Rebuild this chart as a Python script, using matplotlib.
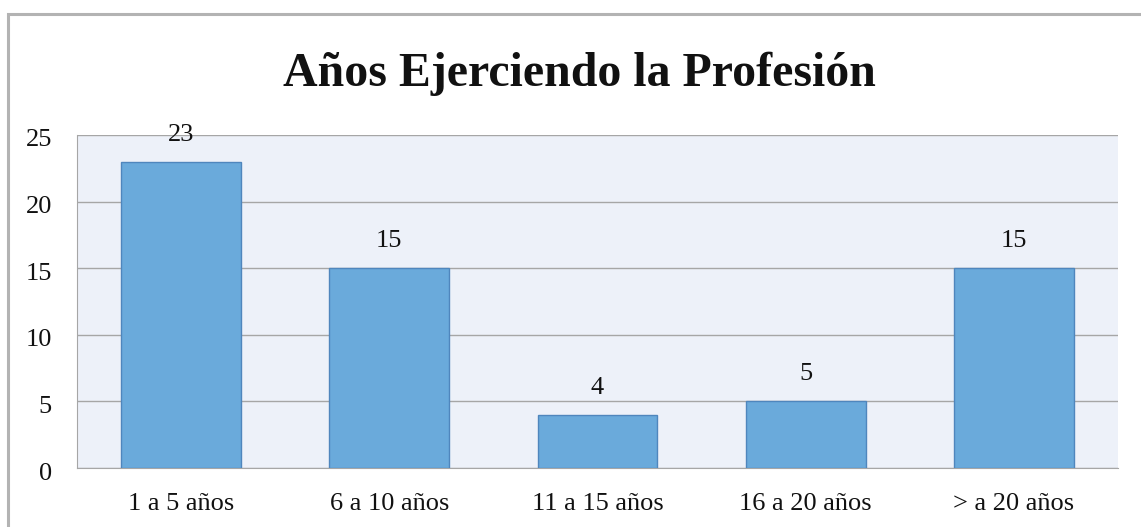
import matplotlib.pyplot as plt
from matplotlib.patches import Rectangle
from matplotlib.transforms import ScaledTranslation

# datos del grafico
categorias = ['1 a 5 años', '6 a 10 años', '11 a 15 años', '16 a 20 años', '> a 20 años']
valores = [23, 15, 4, 5, 15]
ticks_y = [0, 5, 10, 15, 20, 25]

plt.rcParams['font.family'] = ['Liberation Serif', 'DejaVu Serif']

fig = plt.figure(figsize=(11.41, 5.27), dpi=100)

# borde exterior gris
fig.patches.append(Rectangle((8 / 1141, -0.1), 1.2, 1 - 13.5 / 527 + 0.1,
                             transform=fig.transFigure, fill=False,
                             edgecolor='#b3b3b3', linewidth=2.2))

ax = fig.add_axes([77 / 1141, 1 - 468 / 527, (1118 - 77) / 1141, (468 - 135) / 527])
ax.set_facecolor('#edf1f9')

x = range(len(categorias))
ax.bar(x, valores, width=0.576, color='#6aaadb', edgecolor='#4f86bd', linewidth=1, zorder=3)

#etiquetas de valor encima de cada barra
for i, v in enumerate(valores):
    ax.annotate(str(v), (i, v), xytext=(0, 19.5), textcoords='offset points',
                ha='center', va='center', fontsize=19, color='#111111')

ax.set_xlim(-0.5, len(categorias) - 0.5)
ax.set_ylim(0, 25)
ax.set_yticks(ticks_y)
ax.set_xticks(list(x))
ax.set_xticklabels(categorias)
ax.tick_params(axis='both', length=0, labelsize=19, colors='#111111')
ax.tick_params(axis='y', pad=18)
ax.tick_params(axis='x', pad=18)
ax.grid(axis='y', color='#a6a6a6', linewidth=1, zorder=0)

# bajar un poco las etiquetas del eje y
desplazar = ScaledTranslation(0, -3 / 100, fig.dpi_scale_trans)
for lab in ax.get_yticklabels():
    lab.set_transform(lab.get_transform() + desplazar)

for s in ['top', 'right']:
    ax.spines[s].set_visible(False)
ax.spines['left'].set_color('#a6a6a6')
ax.spines['bottom'].set_color('#a6a6a6')

fig.text(579 / 1141, 1 - 86 / 527, 'Años Ejerciendo la Profesión', ha='center', va='baseline',
         fontsize=34.5, fontweight='bold', color='#111111')

fig.savefig('out.png', dpi=100)
